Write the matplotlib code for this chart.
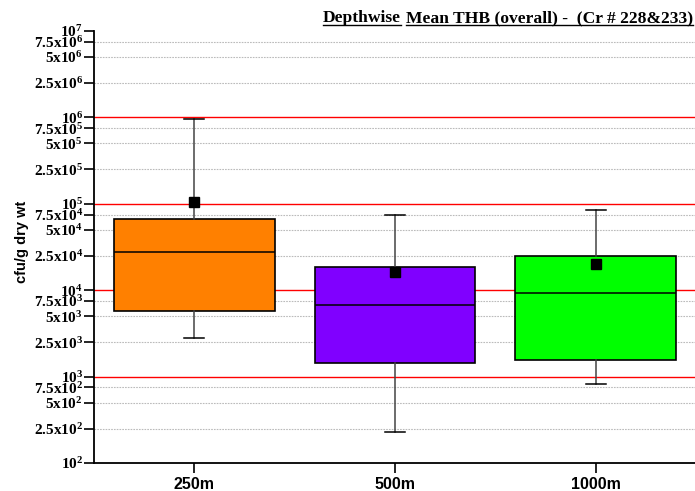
import matplotlib
matplotlib.use("Agg")
import matplotlib.pyplot as plt
import numpy as np

categories = ["250m", "500m", "1000m"]
q1 = [5700, 1450, 1545]
median = [27700, 6690, 9210]
q3 = [66700, 18400, 24900]
whisker_low = [2775, 227, 815]
whisker_high = [958000, 74800, 85500]
means = [104000, 16250, 19950]
colors = ["#FF8000", "#8000FF", "#00FF00"]
ref_lines = [1e3, 1e4, 1e5, 1e6]
title_parts = ["Depthwise", "Mean THB (overall) -  (Cr # 228&233)"]

plt.rcParams['mathtext.fontset'] = 'custom'
plt.rcParams['mathtext.rm'] = 'Liberation Serif:bold'
plt.rcParams['mathtext.bf'] = 'Liberation Serif:bold'
plt.rcParams['mathtext.it'] = 'Liberation Serif:bold'

W, H = 695, 491
fig = plt.figure(figsize=(W/100, H/100), dpi=100)
ax = fig.add_axes([94/W, 1-463/H, 1-94/W + 0.01, (463-31)/H])

pos = np.arange(len(categories))
stats = []
for i in range(len(categories)):
    stats.append(dict(med=median[i], q1=q1[i], q3=q3[i], whislo=whisker_low[i],
                      whishi=whisker_high[i], mean=means[i], fliers=[]))
bp = ax.bxp(stats, positions=pos, widths=0.8, patch_artist=True, showmeans=True,
            meanprops=dict(marker='s', markerfacecolor='black', markeredgecolor='black', markersize=7.5),
            medianprops=dict(color='black', lw=1.1),
            boxprops=dict(edgecolor='black', lw=1.2),
            whiskerprops=dict(color='#444444', lw=1.1),
            capprops=dict(color='black', lw=1.1, ), capwidths=0.1, zorder=3)
for patch, c in zip(bp['boxes'], colors):
    patch.set_facecolor(c)

ax.set_yscale('log')
ax.set_ylim(1e2, 1e7)
ax.set_xlim(-0.5, 2.53)

# grid lines at minor positions
minor_vals = []
for e in range(2, 7):
    for m in [2.5, 5, 7.5]:
        minor_vals.append(m * 10**e)
for v in minor_vals:
    ax.axhline(v, color='#BBBBBB', lw=0.8, ls=(0, (1.5, 1)), zorder=1)
for v in ref_lines:
    ax.axhline(v, color='#FF0000', lw=1.0, zorder=2)

def fmt(v):
    e = int(np.floor(np.log10(v) + 1e-9))
    m = v / 10**e
    if abs(m - 1) < 1e-6:
        return r'$10^{%d}$' % e
    ms = ('%g' % m)
    return r'$%s\mathrm{x}10^{%d}$' % (ms, e)

ticks = [10**e for e in range(2, 8)]
ax.set_yticks(ticks)
ax.set_yticklabels([fmt(t) for t in ticks], fontsize=11)
ax.set_yticks(minor_vals, minor=True)
ax.set_yticklabels([fmt(t) for t in minor_vals], minor=True, fontsize=11)
ax.tick_params(axis='y', which='both', direction='out', length=7, width=1.2, pad=1)

ax.set_xticks(pos)
ax.set_xticklabels(categories, fontsize=11.5, fontweight='bold', family='Liberation Sans')
ax.tick_params(axis='x', direction='out', length=7, width=1.2, pad=3)

for s in ['top', 'right']:
    ax.spines[s].set_visible(False)
for s in ['left', 'bottom']:
    ax.spines[s].set_linewidth(1.3)

fig.text(22/W, 1-242/H, "cfu/g dry wt", rotation=90, ha='center', va='center',
         fontsize=10.5, fontweight='bold', family='Liberation Sans')

# title with underlined parts
fig.canvas.draw()
r = fig.canvas.get_renderer()
x = 323
t1 = fig.text(x/W, 1-22/H, title_parts[0], fontsize=12.6, fontweight='bold',
              family='Liberation Serif', ha='left', va='baseline')
bb1 = t1.get_window_extent(r)
t2 = fig.text((bb1.x1 + 5)/W, 1-22/H, title_parts[1], fontsize=12.6, fontweight='bold',
              family='Liberation Serif', ha='left', va='baseline')
bb2 = t2.get_window_extent(r)
uy = 1 - 25/H
for bb in (bb1, bb2):
    fig.add_artist(plt.Line2D([bb.x0/W, bb.x1/W], [uy, uy], color='black', lw=1.0,
                              transform=fig.transFigure))

fig.savefig("out.png", dpi=100)
